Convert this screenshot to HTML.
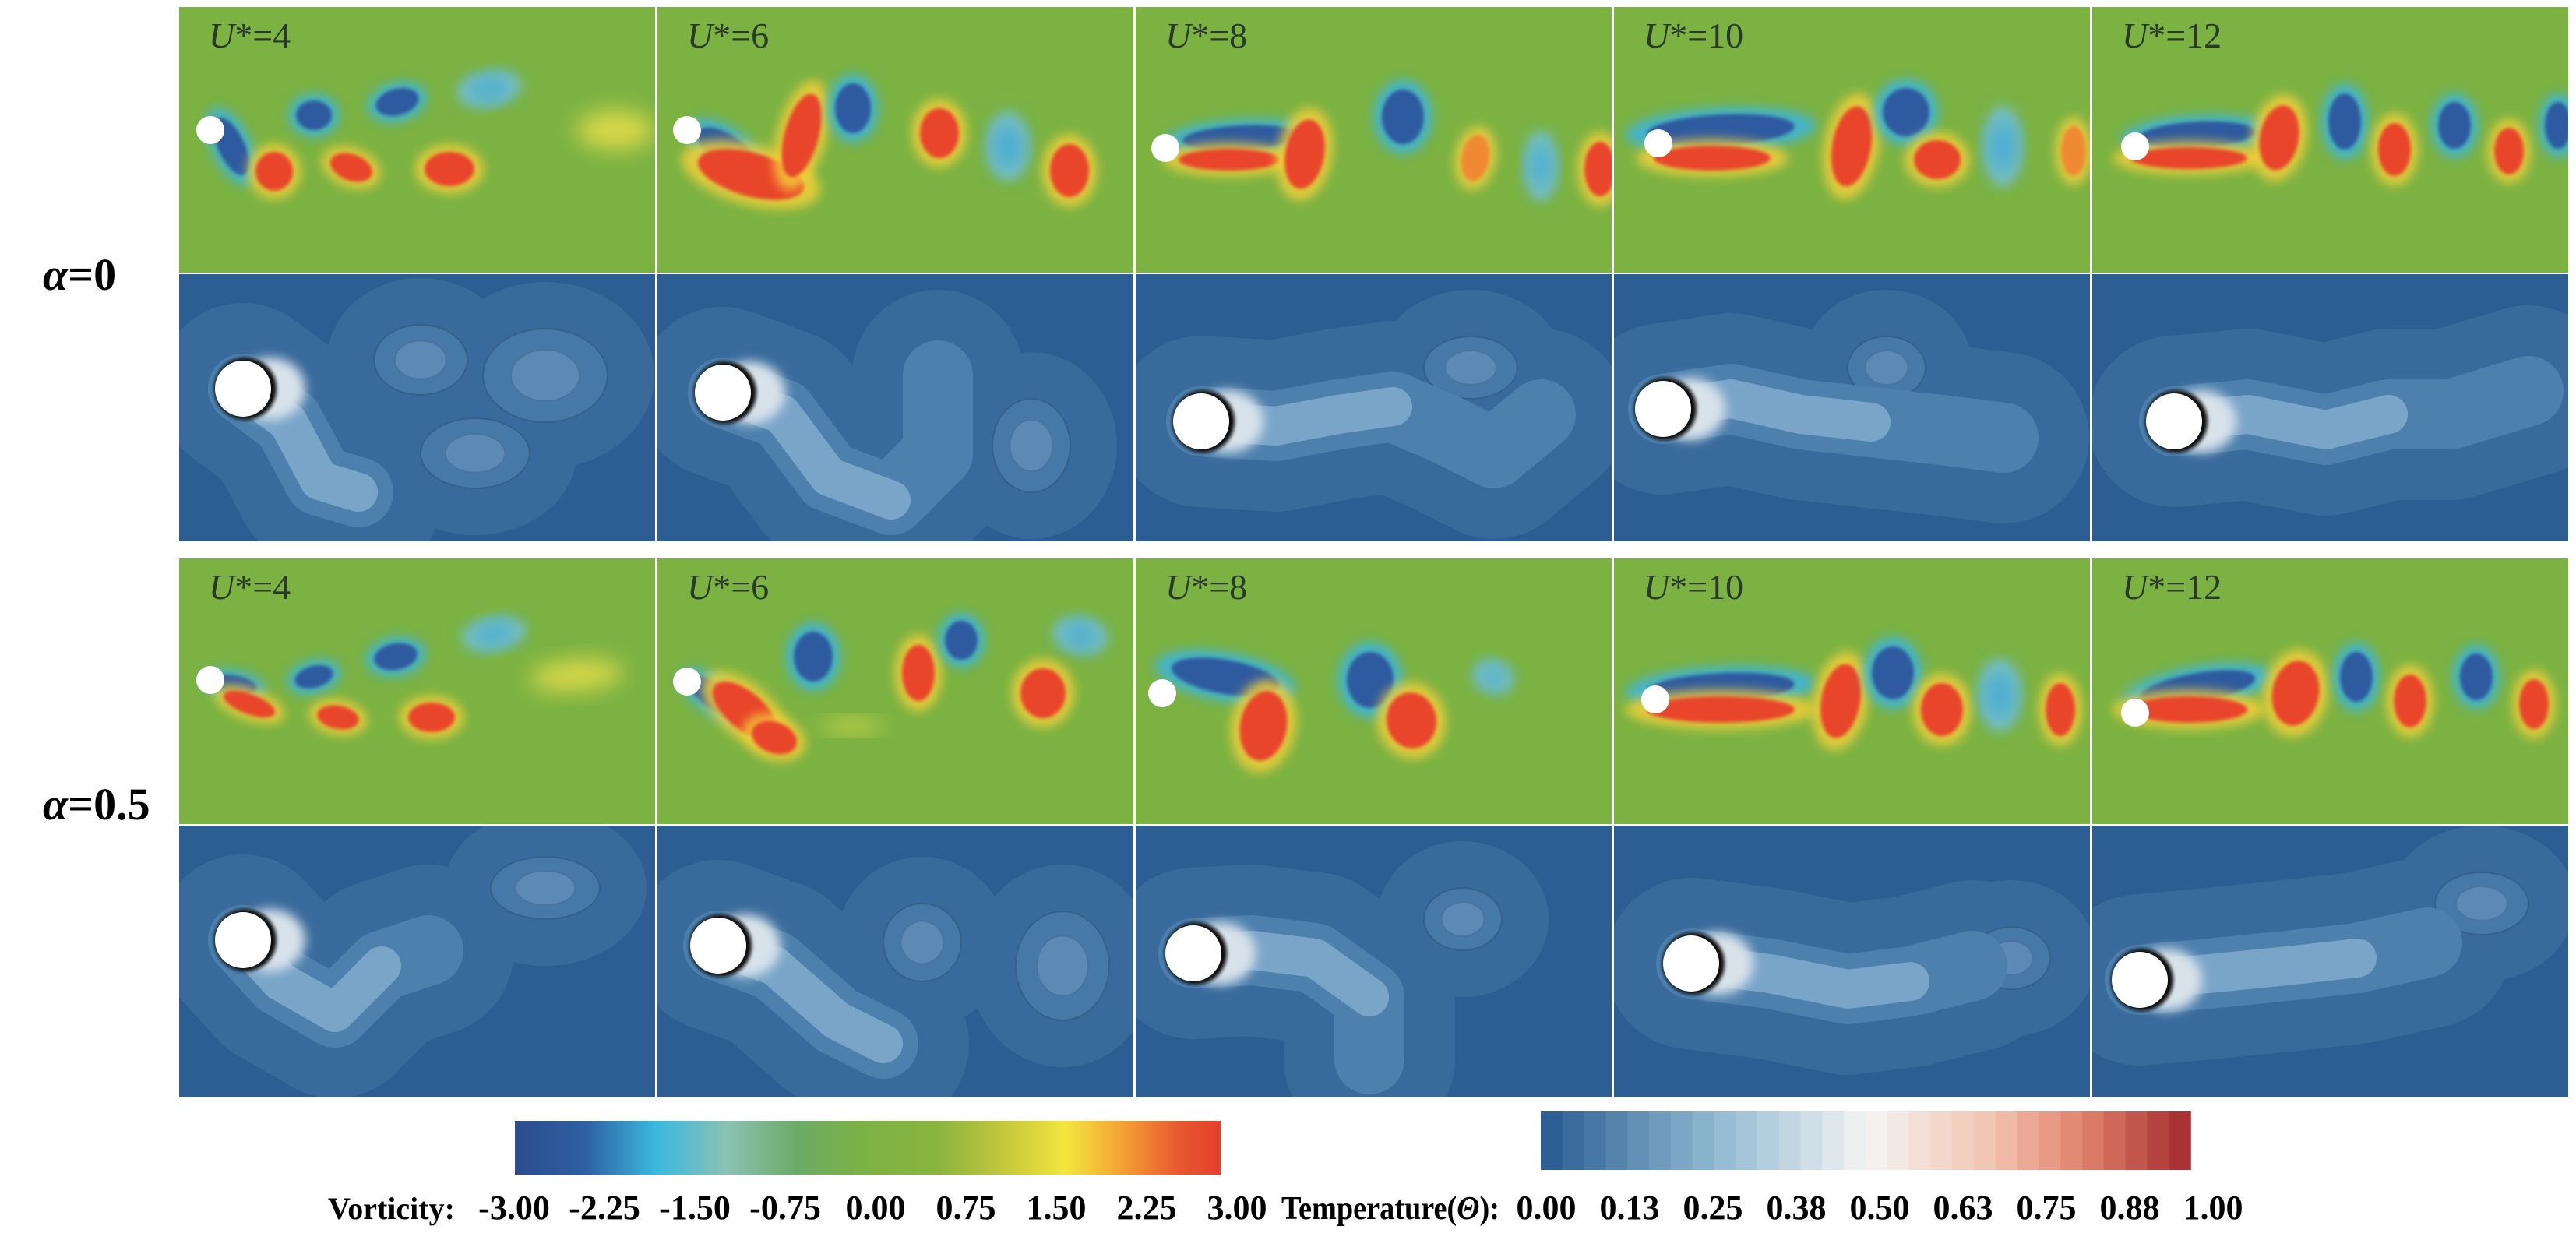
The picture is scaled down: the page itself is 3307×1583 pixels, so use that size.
<!DOCTYPE html>
<html><head><meta charset="utf-8">
<style>
html,body{margin:0;padding:0;background:#fff;}
svg{display:block;}
</style></head>
<body>
<svg id="fig" width="3307" height="1583" viewBox="0 0 3307 1583" xmlns="http://www.w3.org/2000/svg">
<defs>
<filter id="b2" x="-50%" y="-50%" width="200%" height="200%"><feGaussianBlur stdDeviation="2.5"/></filter>
<filter id="b6" x="-50%" y="-50%" width="200%" height="200%"><feGaussianBlur stdDeviation="7"/></filter>
<filter id="b14" x="-50%" y="-50%" width="200%" height="200%"><feGaussianBlur stdDeviation="14"/></filter>
<linearGradient id="vortGrad" x1="0" x2="1" y1="0" y2="0">
<stop offset="0" stop-color="#2b4c8e"/><stop offset="0.1" stop-color="#2f5fa3"/>
<stop offset="0.2" stop-color="#3ab9e0"/><stop offset="0.3" stop-color="#8ac2b4"/>
<stop offset="0.4" stop-color="#6cab66"/><stop offset="0.5" stop-color="#7db242"/>
<stop offset="0.6" stop-color="#8bb43e"/><stop offset="0.7" stop-color="#c8c93c"/>
<stop offset="0.78" stop-color="#f3e63e"/><stop offset="0.86" stop-color="#f4a233"/>
<stop offset="0.94" stop-color="#e8582f"/><stop offset="1" stop-color="#e5402d"/>
</linearGradient>
</defs>
<g id="panels"></g>
<g id="labels"></g>
<g id="cbars"></g>
</svg>
<script>
const NS='http://www.w3.org/2000/svg';
const vortTicks=['-3.00','-2.25','-1.50','-0.75','0.00','0.75','1.50','2.25','3.00'];
const tempTicks=['0.00','0.13','0.25','0.38','0.50','0.63','0.75','0.88','1.00'];
const uLabels=['4','6','8','10','12'];
const alphaLabels=['0','0.5'];

const vortRows=[
[
 {cyl:[40,158],v:[[67,179,17,40,-25,'b'],[122,211,24,25,0,'r'],[173,139,23,19,0,'b'],[280,122,28,17,-15,'b'],[398,105,30,15,-10,'c'],[221,206,28,17,20,'r'],[347,208,32,22,0,'r'],[560,158,50,25,0,'y']]},
 {cyl:[38,158],v:[[90,185,45,20,35,'b'],[120,215,70,28,15,'r'],[185,165,22,55,15,'r'],[251,130,23,32,0,'b'],[362,162,25,32,0,'r'],[450,179,19,32,0,'c'],[529,210,25,34,0,'r']]},
 {cyl:[38,181],v:[[135,168,75,16,-3,'b'],[120,196,65,14,0,'r'],[217,189,25,45,10,'r'],[343,141,27,35,0,'b'],[436,194,18,30,10,'o'],[520,204,14,33,0,'c'],[596,208,20,35,0,'r']]},
 {cyl:[57,175],v:[[137,158,95,20,-3,'b'],[126,194,75,16,0,'r'],[305,179,25,52,10,'r'],[375,135,30,31,0,'b'],[415,196,30,25,0,'r'],[499,179,17,38,0,'c'],[590,185,16,32,0,'o']]},
 {cyl:[55,179],v:[[135,164,75,17,-3,'b'],[124,194,75,14,0,'r'],[240,168,25,42,10,'r'],[324,147,21,36,0,'b'],[388,183,21,34,0,'r'],[465,152,21,30,0,'b'],[535,185,19,30,0,'r'],[598,152,17,30,0,'b']]}
],[
 {cyl:[40,156],v:[[70,162,30,12,10,'b'],[90,187,35,13,20,'r'],[173,152,25,14,-15,'b'],[278,126,28,17,-10,'b'],[404,97,30,14,-10,'c'],[204,204,27,15,10,'r'],[324,204,30,19,0,'r'],[510,150,60,20,-5,'y']]},
 {cyl:[38,158],v:[[75,178,40,16,35,'b'],[112,195,50,24,40,'r'],[150,230,30,20,20,'r'],[200,126,25,32,0,'b'],[335,147,21,36,0,'r'],[390,105,21,25,0,'b'],[495,173,29,32,0,'r'],[543,99,25,16,10,'c'],[250,215,40,8,0,'y']]},
 {cyl:[34,173],v:[[115,152,70,22,10,'b'],[164,215,30,45,10,'r'],[301,156,30,36,0,'b'],[354,208,32,36,-10,'r'],[459,152,18,14,20,'c']]},
 {cyl:[53,181],v:[[137,166,95,19,-3,'b'],[137,194,95,17,0,'r'],[291,183,25,48,10,'r'],[358,147,27,34,0,'b'],[421,194,27,34,0,'r'],[495,175,19,34,0,'c'],[573,194,19,34,0,'r']]},
 {cyl:[55,198],v:[[135,166,75,19,-10,'b'],[124,194,75,17,0,'r'],[261,173,30,42,10,'r'],[339,152,21,32,0,'b'],[408,183,21,34,0,'r'],[493,152,21,30,0,'b'],[567,187,19,32,0,'r']]}
]];
const tempRows=[
[
 {cyl:[82,147],p:[[82,147],[140,190],[180,265],[230,280]],bl:[[310,110,60,45],[380,230,70,45],[470,130,80,60]]},
 {cyl:[84,152],p:[[84,152],[160,180],[220,260],[300,290],[360,230],[360,130]],bl:[[480,220,50,60]]},
 {cyl:[84,189],p:[[84,189],[180,195],[260,180],[330,170],[400,200],[460,230],[520,180]],bl:[[430,120,60,40]]},
 {cyl:[63,173],p:[[63,173],[150,160],[240,180],[330,190],[420,200],[500,210]],bl:[[350,120,50,40]]},
 {cyl:[105,189],p:[[105,189],[200,180],[300,200],[380,180],[460,180],[560,150]],bl:[]}
],[
 {cyl:[82,147],p:[[82,147],[130,200],[200,240],[260,180],[320,160]],bl:[[470,80,70,40]]},
 {cyl:[78,154],p:[[78,154],[150,180],[230,250],[290,280]],bl:[[340,150,50,50],[520,180,60,70]]},
 {cyl:[74,164],p:[[74,164],[150,160],[230,170],[300,220],[300,300]],bl:[[420,120,50,40]]},
 {cyl:[99,177],p:[[99,177],[200,190],[300,210],[380,200],[460,180]],bl:[[510,170,50,40]]},
 {cyl:[61,198],p:[[61,198],[150,190],[250,180],[340,170],[430,150]],bl:[[500,100,60,40]]}
]];

const colMap={r:'#e8452c',b:'#2f5a9f',c:'#45a9d8',o:'#f08a30',y:'#d8d84a'};
const haloMap={r:'#f4d03a',b:'#3bb5e0',c:'#7ec6d0',o:'#f0d040',y:'#c9cf48'};
const X0=230,PW=614,GAP=3;
const rowsY=[[9,341],[352,343],[717,341],[1060,349]];
const panels=document.getElementById('panels');

function mk(tag,attrs,parent){const e=document.createElementNS(NS,tag);for(const k in attrs)e.setAttribute(k,attrs[k]);parent.appendChild(e);return e;}
function pathFrom(pts){let d='M'+pts[0][0]+','+pts[0][1];for(let i=1;i<pts.length;i++){d+=' L'+pts[i][0]+','+pts[i][1];}return d;}

for(let a=0;a<2;a++){
 for(let c=0;c<5;c++){
  const px=X0+c*PW, w=PW-GAP;
  const vy=rowsY[a*2][0], vh=rowsY[a*2][1];
  const gv=mk('g',{transform:`translate(${px},${vy})`},panels);
  
  
  const cp='clipv'+a+c;
  const clip=mk('clipPath',{id:cp},gv);mk('rect',{x:0,y:0,width:w,height:vh},clip);
  const gi=mk('g',{'clip-path':`url(#${cp})`},gv);
  mk('rect',{x:0,y:0,width:w,height:vh,fill:'#7bb242'},gi);
  const P=vortRows[a][c];
  P.v.forEach(v=>{
    const [x,y,rx,ry,rot,t]=v;
    if(t!=='y'){
      const h=mk('ellipse',{cx:x,cy:y,rx:rx*1.25+4,ry:ry*1.25+4,transform:`rotate(${rot} ${x} ${y})`,fill:haloMap[t],filter:'url(#b6)',opacity:0.85},gi);
      
      
    }
    const e=mk('ellipse',{cx:x,cy:y,rx:rx,ry:ry,transform:`rotate(${rot} ${x} ${y})`,fill:colMap[t],filter:t==='y'||t==='c'?'url(#b14)':'url(#b2)'},gi);
    
    
  });
  const cy=mk('circle',{cx:P.cyl[0],cy:P.cyl[1],r:18,fill:'#fff'},gi);
  
  
  const lab=mk('text',{x:38,y:52,'font-family':"'Liberation Serif', serif",'font-size':46,fill:'#2a3a2a'},gv);
  
  
  const ts=mk('tspan',{'font-style':'italic'},lab);ts.textContent='U';
  const ts2=mk('tspan',{},lab);ts2.textContent='*='+uLabels[c];

  const ty=rowsY[a*2+1][0], th=rowsY[a*2+1][1];
  const gt=mk('g',{transform:`translate(${px},${ty})`},panels);
  
  
  const cp2='clipt'+a+c;
  const clip2=mk('clipPath',{id:cp2},gt);mk('rect',{x:0,y:0,width:w,height:th},clip2);
  const gj=mk('g',{'clip-path':`url(#${cp2})`},gt);
  mk('rect',{x:0,y:0,width:w,height:th,fill:'#2c5d93'},gj);
  const T=tempRows[a][c];
  const d=pathFrom(T.p);
  mk('path',{d:d,fill:'none',stroke:'#386a9b','stroke-width':220,'stroke-linecap':'round','stroke-linejoin':'round'},gj);
  T.bl.forEach(b=>{mk('ellipse',{cx:b[0],cy:b[1],rx:b[2]+60,ry:b[3]+60,fill:'#386a9b'},gj);});
  T.bl.forEach(b=>{
    const e=mk('ellipse',{cx:b[0],cy:b[1],rx:b[2],ry:b[3],fill:'#4679a7',stroke:'#36608a','stroke-width':2},gj);
    
    
    mk('ellipse',{cx:b[0],cy:b[1],rx:b[2]*0.55,ry:b[3]*0.55,fill:'#5a8ab5',stroke:'#4a73a0','stroke-width':2},gj);
  });
  const wk=mk('path',{d:d,fill:'none',stroke:'#4d80ad','stroke-width':90,'stroke-linecap':'round','stroke-linejoin':'round'},gj);
  
  
  mk('path',{d:pathFrom(T.p.slice(0,Math.min(4,T.p.length))),fill:'none',stroke:'#79a5c9','stroke-width':50,'stroke-linecap':'round','stroke-linejoin':'round'},gj);
  mk('ellipse',{cx:T.cyl[0]+35,cy:T.cyl[1],rx:45,ry:40,fill:'#d8e2ea',filter:'url(#b6)'},gj);
  mk('circle',{cx:T.cyl[0]+3,cy:T.cyl[1],r:40,fill:'#111',filter:'url(#b2)'},gj);
  const tc=mk('circle',{cx:T.cyl[0],cy:T.cyl[1],r:36,fill:'#fff'},gj);
  
  
 }
}
const labels=document.getElementById('labels');
[[372],[1052]].forEach((p,i)=>{
  const t=mk('text',{x:55,y:p[0],'font-family':"'Liberation Serif', serif",'font-weight':'bold','font-size':58,fill:'#000'},labels);
  
  
  const s=mk('tspan',{'font-style':'italic'},t);s.textContent='α';
  const s2=mk('tspan',{},t);s2.textContent='='+alphaLabels[i];
});
const cb=document.getElementById('cbars');
const vb=mk('rect',{x:661,y:1439,width:906,height:69,fill:'url(#vortGrad)'},cb);


const NSTEP=30;
const tStops=[[0,[45,95,148]],[0.25,[140,182,207]],[0.5,[244,244,244]],[0.7,[242,196,176]],[0.85,[224,128,106]],[1,[168,50,52]]];
function lerp(a,b,t){return a.map((v,i)=>Math.round(v+(b[i]-v)*t));}
function tcol(t){for(let i=1;i<tStops.length;i++){if(t<=tStops[i][0]){const a=tStops[i-1],b=tStops[i];return lerp(a[1],b[1],(t-a[0])/(b[0]-a[0]));}}return tStops[tStops.length-1][1];}
for(let i=0;i<NSTEP;i++){
  const col=tcol(i/(NSTEP-1));
  const r=mk('rect',{x:(1978+i*834/NSTEP).toFixed(1),y:1427,width:(834/NSTEP+0.8).toFixed(1),height:75,fill:`rgb(${col})`},cb);
  
  
}
const vt=mk('text',{x:421,y:1565,'font-family':"'Liberation Serif', serif",'font-weight':'bold','font-size':40},cb);
vt.textContent='Vorticity:';


vortTicks.forEach((s,k)=>{
  const t=mk('text',{x:660+k*116,y:1565,'text-anchor':'middle','font-family':"'Liberation Serif', serif",'font-weight':'bold','font-size':44},cb);
  t.textContent=s;
  
  
});
const tt=mk('text',{x:1645,y:1565,'font-family':"'Liberation Serif', serif",'font-weight':'bold','font-size':42,textLength:280,lengthAdjust:'spacingAndGlyphs'},cb);


const t1=mk('tspan',{},tt);t1.textContent='Temperature(';
const t2=mk('tspan',{'font-style':'italic'},tt);t2.textContent='Θ';
const t3=mk('tspan',{},tt);t3.textContent='):';
tempTicks.forEach((s,k)=>{
  const t=mk('text',{x:1985+k*107,y:1565,'text-anchor':'middle','font-family':"'Liberation Serif', serif",'font-weight':'bold','font-size':44},cb);
  t.textContent=s;
  
  
});
</script>
</body></html>
